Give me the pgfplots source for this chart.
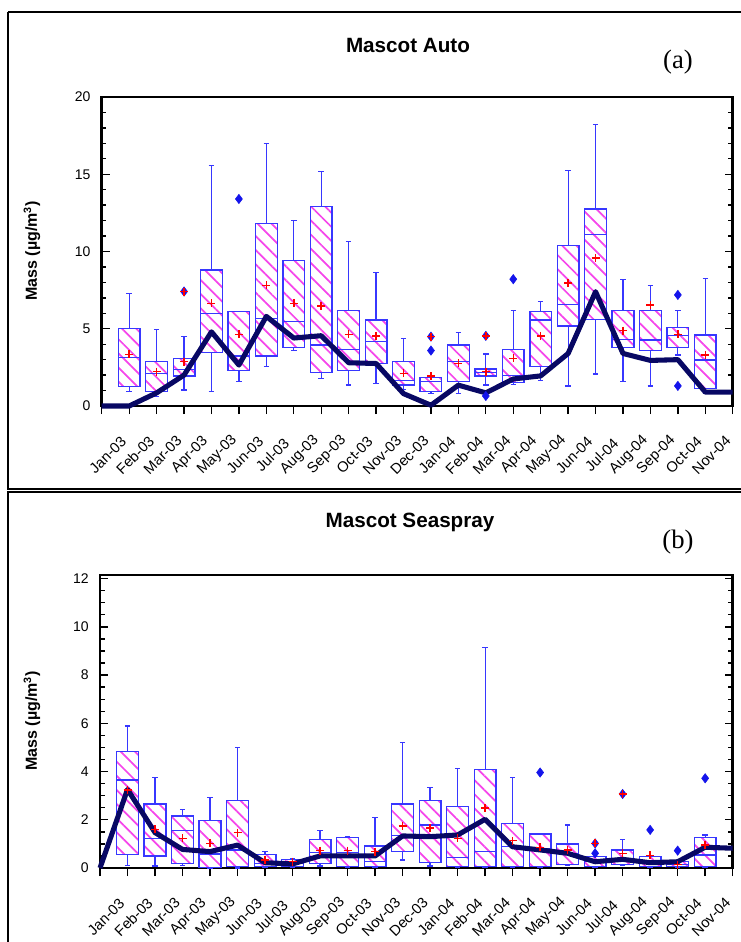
\documentclass[border=0pt]{standalone}
\usepackage{fontspec}
\setmainfont{Liberation Sans}
\newfontfamily\seriffont{Liberation Serif}
\usepackage{pgfplots}
\pgfplotsset{compat=1.18}
\usepgfplotslibrary{statistics}
\usetikzlibrary{patterns.meta}
\definecolor{boxblue}{RGB}{55,55,255}
\definecolor{hatch}{RGB}{245,70,235}
\definecolor{outblue}{RGB}{20,20,235}
\definecolor{navy}{RGB}{8,8,100}

\pgfplotsset{
  panel/.style={
    scale only axis,
    xmin=0, xmax=23,
    axis line style={line width=2pt},
    xtick={0,...,23},
    xticklabels={Jan-03,Feb-03,Mar-03,Apr-03,May-03,Jun-03,Jul-03,Aug-03,Sep-03,Oct-03,Nov-03,Dec-03,Jan-04,Feb-04,Mar-04,Apr-04,May-04,Jun-04,Jul-04,Aug-04,Sep-04,Oct-04,Nov-04,{}},
    xtick pos=left, xtick align=outside,
    ytick pos=both, ytick align=inside,
    major tick length=6pt, minor tick length=3.5pt,
    every tick/.style={black, line width=1pt},
    tick label style={font=\fontsize{10.5}{12}\selectfont},
    xticklabel style={font=\fontsize{11}{12}\selectfont},
    /pgf/number format/assume math mode=true,
    xticklabel style={rotate=45, anchor=center, xshift=-18.6pt, yshift=-24.9pt},
    yticklabel style={xshift=-5pt},
    clip=false,
  },
  mybox/.style={
    solid, draw=boxblue, line width=0.9pt, mark=none,
    boxplot/draw direction=y,
    boxplot/box extend=0.79,
    boxplot/whisker extend=0.2,
    boxplot/every box/.style={draw=boxblue, line width=1pt,
      pattern={Lines[angle=-45,distance=7.5pt,line width=1.3pt]}, pattern color=hatch},
  },
}
\newcommand\bx[6]{\addplot[mybox, boxplot prepared={draw position=#1, lower whisker=#2, lower quartile=#3, median=#4, upper quartile=#5, upper whisker=#6}] coordinates {};}

\begin{document}
\begin{tikzpicture}
\useasboundingbox (0,0) rectangle (555.75pt,-706.5pt);
\begin{scope}[x=0.75pt,y=-0.75pt]
  \draw[line width=1pt] (8,12) -- (750,12);
  \draw[line width=1pt] (8,12) -- (8,489) -- (750,489);
  \draw[line width=1pt] (8,960) -- (8,492) -- (750,492);
  \node[font=\fontsize{15.5}{18}\selectfont\bfseries] at (408,45) {Mascot Auto};
  \node[font=\fontsize{15.5}{18}\selectfont\bfseries] at (410,522) {Mascot Seaspray};
  \node[font=\fontsize{20}{24}\selectfont\seriffont] at (678,62) {(a)};
  \node[font=\fontsize{20}{24}\selectfont\seriffont] at (678,542) {(b)};
  \node[rotate=90, font=\fontsize{12}{14}\selectfont\bfseries] at (32,251) {Mass (µg/m\textsuperscript{3})};
  \node[rotate=90, font=\fontsize{12}{14}\selectfont\bfseries] at (32,721) {Mass (µg/m\textsuperscript{3})};
\end{scope}

% ---------- panel (a)
\begin{axis}[panel, at={(76.3pt,-304.5pt)}, anchor=south west,
  width=473.25pt, height=231.75pt,
  ymin=0, ymax=20, ytick={0,5,...,20}, minor y tick num=4]
\bx{1}{0.93}{1.25}{3.13}{5.03}{7.26}
\bx{2}{0.6}{0.93}{2.12}{2.87}{4.97}
\bx{3}{1.04}{1.94}{2.38}{3.09}{4.49}
\bx{4}{0.93}{3.46}{6.0}{8.81}{15.55}
\bx{5}{1.58}{2.29}{3.24}{6.11}{6.11}
\bx{6}{2.55}{3.24}{5.68}{11.8}{16.98}
\bx{7}{3.59}{3.8}{5.47}{9.42}{11.99}
\bx{8}{1.79}{2.16}{3.95}{12.92}{15.19}
\bx{9}{1.36}{2.29}{3.67}{6.18}{10.65}
\bx{10}{1.47}{2.76}{4.17}{5.57}{8.64}
\bx{11}{1.08}{1.36}{1.64}{2.87}{4.38}
\bx{12}{0.8}{0.93}{1.58}{1.86}{2.0}
\bx{13}{0.8}{1.58}{2.87}{3.95}{4.75}
\bx{14}{1.36}{1.94}{2.16}{2.4}{3.37}
\bx{15}{1.4}{1.5}{2.0}{3.67}{6.18}
\bx{16}{1.64}{2.55}{5.57}{6.11}{6.76}
\bx{17}{1.3}{5.18}{6.55}{10.39}{15.23}
\bx{18}{2.07}{5.62}{11.08}{12.75}{18.21}
\bx{19}{1.58}{3.8}{4.32}{6.18}{8.17}
\bx{20}{1.3}{3.59}{4.27}{6.18}{7.78}
\bx{21}{3.3}{3.8}{4.54}{5.1}{6.2}
\bx{22}{0.8}{1.15}{2.98}{4.6}{8.27}
\addplot[only marks, mark=diamond*, mark size=3.5pt, color=outblue] coordinates {
 (3,7.41)(5,13.4)(12,4.49)(12,3.59)(14,4.54)(14,0.65)(15,8.21)(21,7.19)(21,1.3)};
\addplot[only marks, mark=+, mark size=3pt, red, line width=1.1pt] coordinates {
 (1,3.35)(2,2.22)(3,2.87)(4,6.65)(5,4.64)(6,7.8)(7,6.65)(8,6.48)(9,4.64)(10,4.54)(11,2.12)
 (12,1.93)(13,2.76)(14,2.22)(15,3.09)(16,4.54)(17,7.95)(18,9.57)(19,4.88)(20,6.55)(21,4.64)(22,3.3)
 (3,7.41)(12,4.49)(14,4.54)};
\addplot[navy, line width=3.8pt, line join=round, mark=none] coordinates {
 (0,0)(1,0)(2,0.85)(3,2.0)(4,4.8)(5,2.65)(6,5.8)(7,4.4)(8,4.55)(9,2.8)(10,2.75)(11,0.8)
 (12,0.05)(13,1.35)(14,0.85)(15,1.75)(16,1.95)(17,3.4)(18,7.4)(19,3.4)(20,2.95)(21,3.0)(22,0.9)(23,0.9)};
\end{axis}

% ---------- panel (b)
\begin{axis}[panel, at={(75pt,-651pt)}, anchor=south west,
  width=474.5pt, height=219.75pt,
  ymin=0, ymax=12.15, ytick={0,2,...,12}, minor y tick num=3]
\bx{1}{0.12}{0.57}{3.65}{4.83}{5.89}
\bx{2}{0.08}{0.5}{1.23}{2.66}{3.76}
\bx{3}{0.1}{0.19}{1.55}{2.16}{2.43}
\bx{4}{0}{0.02}{0.58}{1.96}{2.93}
\bx{5}{0}{0.05}{0.75}{2.79}{5.01}
\bx{6}{0.03}{0.05}{0.2}{0.57}{0.68}
\bx{7}{0.03}{0.05}{0.2}{0.36}{0.4}
\bx{8}{0.08}{0.19}{0.64}{1.19}{1.55}
\bx{9}{0.03}{0.05}{0.64}{1.26}{1.3}
\bx{10}{0.03}{0.05}{0.27}{0.91}{2.1}
\bx{11}{0.33}{0.68}{1.35}{2.66}{5.2}
\bx{12}{0.08}{0.22}{1.78}{2.79}{3.35}
\bx{13}{0.03}{0.05}{0.44}{2.54}{4.14}
\bx{14}{0.03}{0.05}{0.68}{4.09}{9.16}
\bx{15}{0.03}{0.05}{0.9}{1.85}{3.76}
\bx{16}{0.03}{0.05}{0.8}{1.41}{1.41}
\bx{17}{0.1}{0.14}{0.6}{1.0}{1.78}
\bx{18}{0.03}{0.05}{0.27}{0.47}{0.47}
\bx{19}{0.1}{0.14}{0.3}{0.75}{1.19}
\bx{20}{0.03}{0.05}{0.3}{0.47}{0.47}
\bx{21}{0.03}{0.05}{0.15}{0.27}{0.27}
\bx{22}{0.03}{0.05}{0.54}{1.27}{1.37}
\addplot[only marks, mark=diamond*, mark size=3.5pt, color=outblue] coordinates {
 (16,3.96)(18,1.02)(18,0.61)(19,3.07)(20,1.58)(21,0.72)(22,3.72)};
\addplot[only marks, mark=+, mark size=3pt, red, line width=1.1pt] coordinates {
 (1,3.24)(2,1.6)(3,1.23)(4,1.02)(5,1.47)(6,0.33)(7,0.27)(8,0.72)(9,0.72)(10,0.68)(11,1.74)
 (12,1.65)(13,1.23)(14,2.48)(15,1.13)(16,0.86)(17,0.75)(18,1.02)(19,0.61)(20,0.52)(21,0.14)(22,0.95)
 (19,3.07)};
\addplot[navy, line width=3.8pt, line join=round, mark=none] coordinates {
 (0,0)(1,3.26)(2,1.47)(3,0.77)(4,0.68)(5,0.95)(6,0.22)(7,0.17)(8,0.5)(9,0.5)(10,0.5)(11,1.33)
 (12,1.3)(13,1.37)(14,2.02)(15,0.88)(16,0.75)(17,0.61)(18,0.26)(19,0.36)(20,0.22)(21,0.26)(22,0.86)(23,0.82)};
\end{axis}
\end{tikzpicture}
\end{document}
